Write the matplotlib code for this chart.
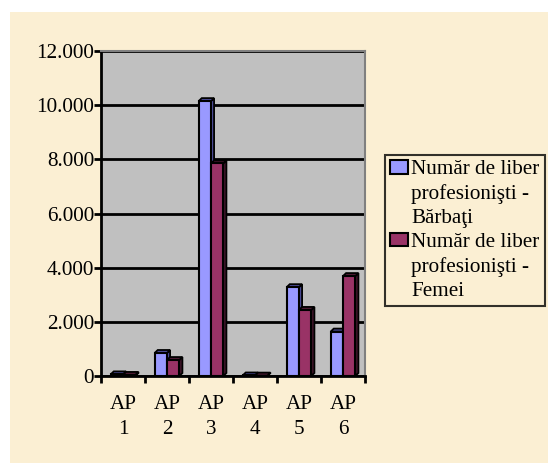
import matplotlib
matplotlib.use("Agg")
import matplotlib.pyplot as plt
import matplotlib.ticker as ticker
from matplotlib.patches import Rectangle, Polygon

# data
categories = ["AP\n1", "AP\n2", "AP\n3", "AP\n4", "AP\n5", "AP\n6"]
barbati = [60, 850, 10150, 20, 3280, 1640]
femei = [40, 590, 7850, 15, 2440, 3690]
series_names = ["Număr de liber\nprofesionişti -\nBărbaţi",
                "Număr de liber\nprofesionişti -\nFemei"]

BLUE = "#9999FF"
BLUE_DARK = "#4D4D99"
MAROON = "#993366"
MAROON_DARK = "#4D1A33"
PAPER = "#FBEFD3"

plt.rcParams["font.family"] = ["Liberation Serif", "DejaVu Serif"]
plt.rcParams["font.size"] = 15.2

fig = plt.figure(figsize=(5.48, 4.63), dpi=100, facecolor="white")
# parchment background, white strip at top and left
fig.patches.append(Rectangle((10 / 548, 0), 1, 1 - 12 / 463,
                             transform=fig.transFigure, facecolor=PAPER,
                             edgecolor="none", zorder=-10))

ax = fig.add_axes([101 / 548, 87 / 463, 264 / 548, 325 / 463])
ax.set_facecolor("#C0C0C0")

w = 0.28
dx, dy = 0.07, 110  # fake 3d depth
x = list(range(len(categories)))


def draw_bars(xs, vals, face, dark):
    for xi, v in zip(xs, vals):
        ax.add_patch(Polygon([(xi + w, 0), (xi + w + dx, dy), (xi + w + dx, v + dy), (xi + w, v)],
                             closed=True, facecolor=dark, edgecolor="black", lw=1.3, zorder=3))
        ax.add_patch(Polygon([(xi, v), (xi + dx, v + dy), (xi + w + dx, v + dy), (xi + w, v)],
                             closed=True, facecolor=dark, edgecolor="black", lw=1.3, zorder=3))
    return ax.bar(xs, vals, width=w, align="edge", color=face, edgecolor="black",
                  linewidth=1.5, zorder=4)


b1 = draw_bars([i - w for i in x], barbati, BLUE, BLUE_DARK)
b2 = draw_bars(x, femei, MAROON, MAROON_DARK)

ax.set_xlim(-0.5, 5.5)
ax.set_ylim(0, 12000)
ax.yaxis.set_major_locator(ticker.MultipleLocator(2000))
ax.yaxis.set_major_formatter(ticker.FuncFormatter(lambda v, p: f"{int(v):,}".replace(",", ".")))
ax.grid(axis="y", color="black", linewidth=2, zorder=1)
ax.set_axisbelow(True)

ax.set_xticks(x)
ax.set_xticklabels(categories, linespacing=1.4)
ax.set_xticks([i + 0.5 for i in range(-1, 6)], minor=True)
ax.tick_params(axis="x", which="major", length=0, pad=14)
ax.tick_params(axis="x", which="minor", length=5, width=2, direction="out")
ax.tick_params(axis="y", length=5, width=2, direction="out", pad=0)

for s in ["top", "right"]:
    ax.spines[s].set_color("#808080")
    ax.spines[s].set_linewidth(1.5)
ax.spines["left"].set_linewidth(2)
ax.spines["bottom"].set_linewidth(2)

leg = fig.legend([b1, b2], series_names, loc="upper left",
                 bbox_to_anchor=(385 / 548, 1 - 155 / 463),
                 frameon=True, fancybox=False, edgecolor="black",
                 handlelength=0.85, handleheight=0.6, handletextpad=0.15,
                 borderpad=0.25, labelspacing=0.2, borderaxespad=0)
leg.get_frame().set_linewidth(1.5)
leg.get_frame().set_facecolor(PAPER)
for t in leg.get_texts():
    t.set_multialignment("left")
    t.set_linespacing(1.35)
for col in leg._legend_handle_box.get_children():
    for row in col.get_children():
        row.align = "top"

fig.savefig("out.png", dpi=100, facecolor=fig.get_facecolor())
